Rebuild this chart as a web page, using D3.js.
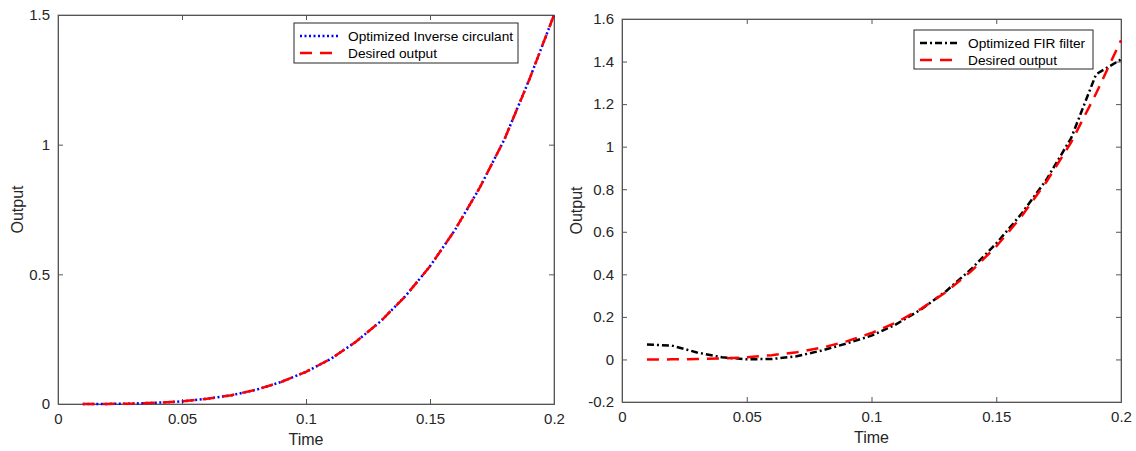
<!DOCTYPE html>
<html><head><meta charset="utf-8">
<script src="https://cdnjs.cloudflare.com/ajax/libs/d3/7.8.5/d3.min.js"></script>
<style>
body{margin:0;background:#fff;}
svg{display:block;font-family:"Liberation Sans",Arial,Helvetica,sans-serif;}
</style></head><body>
<svg id="c" width="1136" height="451"></svg>
<script>
const time = [0.01,0.02,0.03,0.04,0.05,0.06,0.07,0.08,0.09,0.10,0.11,0.12,0.13,0.14,0.15,0.16,0.17,0.18,0.19,0.20];
const desired = [0,0.0004,0.0016,0.005,0.010,0.020,0.034,0.055,0.085,0.124,0.174,0.239,0.318,0.415,0.531,0.670,0.833,1.02,1.25,1.5];
const inverseCirculant = [0,0.0004,0.0016,0.005,0.010,0.020,0.034,0.055,0.085,0.124,0.174,0.239,0.318,0.415,0.531,0.670,0.833,1.02,1.25,1.5];
const firFilter = [0.070,0.065,0.033,0.010,0.001,0.002,0.015,0.042,0.075,0.112,0.166,0.236,0.322,0.425,0.545,0.683,0.843,1.04,1.34,1.41];
const xTicks = [0,0.05,0.1,0.15,0.2];
const yTicksLeft = [0,0.5,1,1.5];
const yTicksRight = [-0.2,0,0.2,0.4,0.6,0.8,1,1.2,1.4,1.6];
const legendLeft = ["Optimized Inverse circulant","Desired output"];
const legendRight = ["Optimized FIR filter","Desired output"];

const svg = d3.select("#c");
const axisColor = "#262626";

function panel(cfg){
  const g = svg.append("g");
  const x = d3.scaleLinear().domain([0,0.2]).range([cfg.x0,cfg.x1]);
  const y = d3.scaleLinear().domain(cfg.yDom).range([cfg.y1,cfg.y0]);
  g.append("rect").attr("x",cfg.x0).attr("y",cfg.y0).attr("width",cfg.x1-cfg.x0).attr("height",cfg.y1-cfg.y0)
   .attr("fill","#fff").attr("stroke","#888").attr("stroke-width",1);
  g.append("g").attr("transform",`translate(0,${cfg.y1})`)
    .call(d3.axisBottom(x).tickValues(xTicks).tickSize(-5).tickPadding(9).tickFormat(d=>String(+d.toFixed(2))));
  g.append("g").attr("transform",`translate(${cfg.x0},0)`)
    .call(d3.axisLeft(y).tickValues(cfg.yTicks).tickSize(-5).tickPadding(8).tickFormat(d=>String(+d.toFixed(1))));
  g.append("g").attr("transform",`translate(0,${cfg.y0})`)
    .call(d3.axisTop(x).tickValues(xTicks).tickSize(-5).tickFormat(""));
  g.append("g").attr("transform",`translate(${cfg.x1},0)`)
    .call(d3.axisRight(y).tickValues(cfg.yTicks).tickSize(-5).tickFormat(""));
  g.selectAll(".domain").attr("stroke","#555");
  g.selectAll(".tick line").attr("stroke","#555");
  g.selectAll(".tick text").attr("fill",axisColor).attr("font-size",15);
  g.append("text").attr("x",(cfg.x0+cfg.x1)/2).attr("y",cfg.y1+41).attr("text-anchor","middle")
   .attr("font-size",16).attr("fill",axisColor).text("Time");
  g.append("text").attr("transform",`translate(${cfg.ylabX},${(cfg.y0+cfg.y1)/2}) rotate(-90)`)
   .attr("text-anchor","middle").attr("font-size",16).attr("fill",axisColor).text("Output");
  const line = d3.line().x((d,i)=>x(time[i])).y(d=>y(d));
  cfg.series.forEach(s=>{
    g.append("path").datum(s.data).attr("d",line).attr("fill","none")
      .attr("stroke",s.color).attr("stroke-width",s.w).attr("stroke-dasharray",s.dash)
      .attr("stroke-linecap",s.cap||"butt");
  });
  const L = cfg.legend;
  g.append("rect").attr("x",L.x).attr("y",L.y).attr("width",L.w).attr("height",L.h)
   .attr("fill","#fff").attr("stroke","#262626").attr("stroke-width",1);
  cfg.series.forEach((s,i)=>{
    const yy = L.y + 13 + i*17;
    g.append("line").attr("x1",L.x+6).attr("x2",L.x+46).attr("y1",yy).attr("y2",yy)
      .attr("stroke",s.color).attr("stroke-width",s.w).attr("stroke-dasharray",s.dash).attr("stroke-linecap",s.cap||"butt");
    g.append("text").attr("x",L.x+54).attr("y",yy).attr("dy","0.35em").attr("font-size",13.7)
      .attr("fill","#000").text(L.labels[i]);
  });
}

panel({x0:58,x1:554,y0:15,y1:404,yDom:[0,1.5],yTicks:yTicksLeft,ylabX:23,
  series:[{data:inverseCirculant,color:"#0000ff",w:2.5,dash:"2 2.5",cap:"butt"},
          {data:desired,color:"#ff0000",w:2.5,dash:"12 8"}],
  legend:{x:294,y:23,w:224,h:40,labels:legendLeft}});

panel({x0:622,x1:1121,y0:19,y1:402,yDom:[-0.2,1.6],yTicks:yTicksRight,ylabX:582,
  series:[{data:firFilter,color:"#000000",w:2.5,dash:"7 3 2 3"},
          {data:desired,color:"#ff0000",w:2.5,dash:"12 8"}],
  legend:{x:914,y:30,w:179,h:39,labels:legendRight}});
</script>
</body></html>
